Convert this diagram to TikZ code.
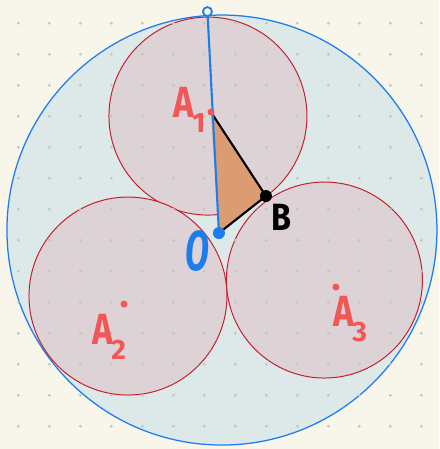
\documentclass[tikz,border=0pt]{standalone}
\usepackage{fontspec}
\setmainfont{Fira Sans}
\usepackage{graphicx}
\usepackage{xcolor}
\usepackage{tikz}
\usetikzlibrary{arrows.meta,positioning,calc}
\definecolor{paper}{HTML}{F8F6EB}
\definecolor{griddot}{HTML}{C4C4BF}
\definecolor{skyblue}{HTML}{1C7EED}
\definecolor{bluefill}{HTML}{DDE8E8}
\definecolor{ballred}{HTML}{C41F2C}
\definecolor{ballfill}{HTML}{DDD3D6}
\definecolor{wedge}{HTML}{DA9C70}
\definecolor{lblred}{HTML}{F25656}
\newcommand{\alabel}[1]{\scalebox{0.8}[1]{A}\kern-1pt\raisebox{-10pt}{\fontsize{20}{20}\selectfont #1}}

\begin{document}
\begin{tikzpicture}[scale=0.025, every node/.style={align=center, inner sep=0pt}]
\tikzset{
  outer/.style={draw=skyblue, line width=0.9pt, fill=bluefill},
  ball/.style={draw=ballred, line width=0.7pt, fill=ballfill},
  redlbl/.style={text=lblred, font=\fontsize{31}{31}\selectfont\bfseries, anchor=base west},
  seg/.style={line width=1.5pt, line cap=round, line join=round}
}
\fill[paper] (0,0) rectangle (439,449);
\useasboundingbox (0,0) rectangle (439,449);
\coordinate (ctr) at (222,219);
\coordinate (c1) at (208,333);
\coordinate (c2) at (128,153);
\coordinate (c3) at (324.5,169);
\coordinate (A1) at (211,337);
\coordinate (A2) at (124,145);
\coordinate (A3) at (336,162);
\coordinate (O) at (219,216);
\coordinate (B) at (266,253);
\coordinate (top) at (207.5,437.5);
\draw[outer] (ctr) circle (215);
\draw[ball] (c1) circle (99);
\draw[ball] (c2) circle (99);
\draw[ball] (c3) circle (98);
\foreach \i in {0,...,13}
  \foreach \j in {0,...,13}
    \fill[griddot] (18.3+31*\i,425.7-31*\j) circle (1.5);
\fill[wedge] (A1) -- (B) -- (O) -- cycle;
\draw[seg, black] (A1) -- (B) -- (O);
\draw[seg, skyblue] (top) -- (O);
\draw[skyblue, line width=1.3pt, fill=paper] (top) circle (4.5);
\fill[skyblue] (O) circle (6);
\fill[black] (B) circle (6);
\fill[lblred] (A1) circle (3.5);
\fill[lblred] (A2) circle (3.5);
\fill[lblred] (A3) circle (3.5);
\node[redlbl] (lblA1) at (173,331) {\alabel{1}};
\node[redlbl] (lblA2) at (92,104) {\alabel{2}};
\node[redlbl] (lblA3) at (333,122) {\alabel{3}};
\node[text=skyblue, font=\fontsize{40}{40}\selectfont\bfseries\itshape] (lblO) at (197.5,198) {\scalebox{0.62}[1]{O}};
\node[text=black, font=\fontsize{27}{27}\selectfont\bfseries] (lblB) at (281.5,232) {\scalebox{0.85}[1]{B}};
\end{tikzpicture}
\end{document}
